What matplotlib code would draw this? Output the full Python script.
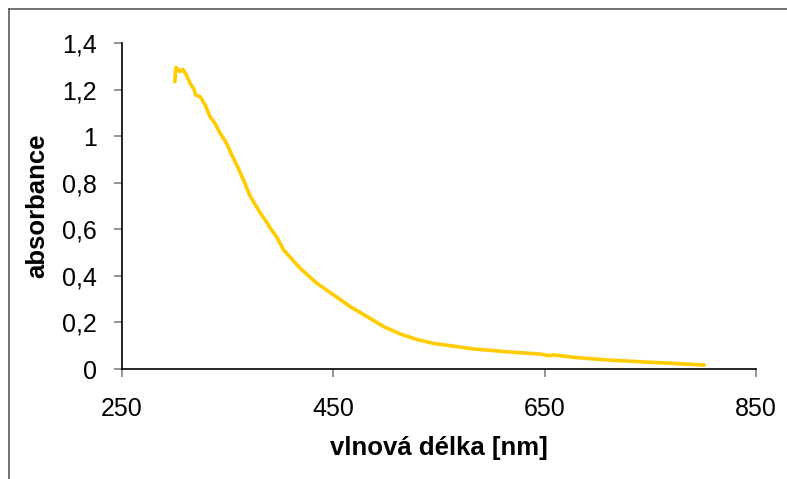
import matplotlib.pyplot as plt
from matplotlib.lines import Line2D
from matplotlib.ticker import FuncFormatter

# wavelength [nm] and absorbance
wl = [300, 301, 305, 307.5, 311, 314.5, 318.5, 319.5, 324, 328.7, 333.4, 338, 343,
      349, 354, 360, 365, 371, 381, 387, 390, 396.5, 403, 418.7, 434.5, 450.3,
      466, 482, 497.7, 513.5, 529, 545, 551, 561, 583, 614.5, 646, 655, 658,
      677.8, 709, 741, 772.6, 801]
absorb = [1.234, 1.295, 1.277, 1.287, 1.262, 1.227, 1.198, 1.177, 1.169, 1.134, 1.083,
          1.055, 1.012, 0.969, 0.919, 0.862, 0.812, 0.745, 0.669, 0.630, 0.607,
          0.566, 0.511, 0.432, 0.368, 0.318, 0.268, 0.225, 0.182, 0.150, 0.127,
          0.110, 0.106, 0.100, 0.086, 0.074, 0.064, 0.057, 0.061, 0.050, 0.039,
          0.031, 0.024, 0.017]

x_ticks = [250, 450, 650, 850]
y_ticks = [0, 0.2, 0.4, 0.6, 0.8, 1.0, 1.2, 1.4]

plt.rcParams['font.family'] = ['Liberation Sans', 'DejaVu Sans']

fig = plt.figure(figsize=(7.87, 4.79), dpi=100)
ax = fig.add_axes([0.155, 0.2296, 0.8056, 0.6806])

ax.plot(wl, absorb, color='#FFCC00', lw=2.6, solid_capstyle='round',
        solid_joinstyle='round')

ax.set_xlim(250, 850)
ax.set_ylim(0, 1.4)
ax.set_xticks(x_ticks)
ax.set_yticks(y_ticks)
ax.yaxis.set_major_formatter(FuncFormatter(lambda v, p: ('%g' % round(v, 1)).replace('.', ',')))

for s in ['top', 'right']:
    ax.spines[s].set_visible(False)
for s in ['left', 'bottom']:
    ax.spines[s].set_color('black')
    ax.spines[s].set_linewidth(1.2)

ax.tick_params(axis='both', direction='out', length=6, width=1.2, color='#808080',
               labelsize=18, labelcolor='black')
ax.tick_params(axis='x', pad=14)
ax.tick_params(axis='y', pad=12)

ax.set_xlabel('vlnová délka [nm]', fontsize=18.5, fontweight='bold', labelpad=11)
ax.set_ylabel('absorbance', fontsize=18.5, fontweight='bold', labelpad=9)

# chart-area frame, only its left and top edges fall inside the picture
fig.add_artist(Line2D([9 / 787, 9 / 787], [0, 1 - 9 / 479], transform=fig.transFigure,
                      color='#595959', lw=1.2))
fig.add_artist(Line2D([9 / 787, 1], [1 - 9 / 479, 1 - 9 / 479], transform=fig.transFigure,
                      color='#595959', lw=1.2))

fig.savefig('out.png', dpi=100)
